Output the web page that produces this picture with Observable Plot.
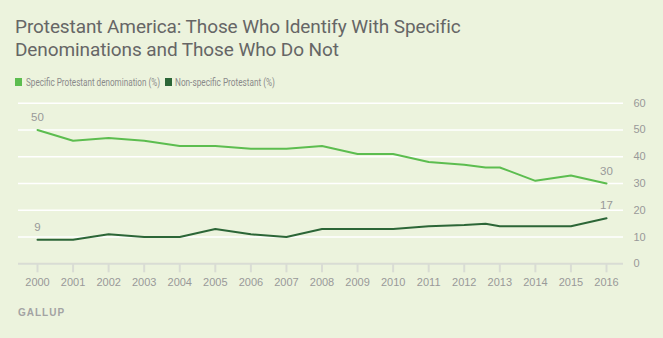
<!DOCTYPE html>
<html>
<head>
<meta charset="utf-8">
<script src="https://cdn.jsdelivr.net/npm/d3@7"></script>
<script src="https://cdn.jsdelivr.net/npm/@observablehq/plot@0.6"></script>
<style>
  html, body { margin: 0; padding: 0; background: #ecf3dd; }
  body { width: 663px; height: 338px; overflow: hidden; position: relative; font-family: "Roboto", sans-serif; }
  #title { position: absolute; left: 15px; top: 15px; font-size: 19px; line-height: 23px; color: #666; letter-spacing: -0.1px; }
  #legend { position: absolute; left: 0; top: 75px; width: 400px; height: 14px; font-size: 11.5px; color: #8a8a8a; }
  #legend .sw { position: absolute; top: 3px; width: 7px; height: 8px; }
  #legend .txt { position: absolute; top: 0; white-space: nowrap; transform-origin: 0 50%; line-height: 14px; }
  #chart { position: absolute; left: 0; top: 92px; }
  #source { position: absolute; left: 18px; top: 307px; font-family: "Liberation Sans", sans-serif; font-size: 10px; font-weight: bold; color: #a3a3a3; letter-spacing: 1px; }
</style>
</head>
<body>
<div id="title">Protestant America: Those Who Identify With Specific<br>Denominations and Those Who Do Not</div>
<div id="legend"></div>
<div id="chart"></div>
<div id="source">GALLUP</div>
<script>
const seriesNames = ["Specific Protestant denomination (%)", "Non-specific Protestant (%)"];
const seriesColors = ["#5cbd4f", "#2c6637"];
const years = [2000, 2001, 2002, 2003, 2004, 2005, 2006, 2007, 2008, 2009, 2010, 2011, 2012, 2012.6, 2013, 2014, 2015, 2016];
const specific = [50, 46, 47, 46, 44, 44, 43, 43, 44, 41, 41, 38, 37, 36, 36, 31, 33, 30];
const nonSpecific = [9, 9, 11, 10, 10, 13, 11, 10, 13, 13, 13, 14, 14.5, 15, 14, 14, 14, 17];
const xTicks = [2000, 2001, 2002, 2003, 2004, 2005, 2006, 2007, 2008, 2009, 2010, 2011, 2012, 2013, 2014, 2015, 2016];
const yTicks = [0, 10, 20, 30, 40, 50, 60];

const data = [];
years.forEach((y, i) => {
  data.push({year: y, value: specific[i], series: seriesNames[0]});
  data.push({year: y, value: nonSpecific[i], series: seriesNames[1]});
});
const endLabels = data.filter(d => d.year === years[0] || d.year === years[years.length - 1]);

// legend layout (positions in px)
const legendLayout = [{sw: 15, txt: 26, w: 134}, {sw: 165, txt: 175, w: 100}];
const legend = document.getElementById("legend");
seriesNames.forEach((n, i) => {
  const L = legendLayout[i];
  const sw = document.createElement("span");
  sw.className = "sw";
  sw.style.left = L.sw + "px";
  sw.style.background = seriesColors[i];
  legend.appendChild(sw);
  const t = document.createElement("span");
  t.className = "txt";
  t.style.left = L.txt + "px";
  t.textContent = n;
  legend.appendChild(t);
  const w = t.getBoundingClientRect().width;
  t.style.transform = `scaleX(${L.w / w})`;
});

const chart = Plot.plot({
  width: 663,
  height: 205,
  marginLeft: 18,
  marginRight: 40,
  marginTop: 10.7,
  marginBottom: 33.7,
  style: {background: "transparent", fontFamily: "'Liberation Sans', sans-serif", fontSize: "11px", color: "#999"},
  x: {domain: [2000, 2016], insetLeft: 19, insetRight: 17},
  y: {domain: [0, 60]},
  color: {domain: seriesNames, range: seriesColors},
  marks: [
    Plot.ruleY(yTicks.filter(t => t > 0), {stroke: "#fff", strokeWidth: 1.6}),
    Plot.ruleY([0], {stroke: "#d9dcd4", strokeWidth: 2}),
    Plot.axisX({ticks: xTicks, tickFormat: d => String(d), tickSize: 9, tickPadding: 5, stroke: "#d9dcd4", strokeWidth: 2, color: "#999", label: null}),
    Plot.axisY({anchor: "right", ticks: yTicks, tickSize: 0, tickPadding: 10, color: "#999", label: null}),
    Plot.line(data, {x: "year", y: "value", z: "series", stroke: "series", strokeWidth: 2}),
    Plot.text(endLabels, {x: "year", y: "value", text: d => String(d.value), dy: -12.5, fill: "#999", fontSize: 11.5})
  ]
});
document.getElementById("chart").appendChild(chart);
</script>
</body>
</html>
